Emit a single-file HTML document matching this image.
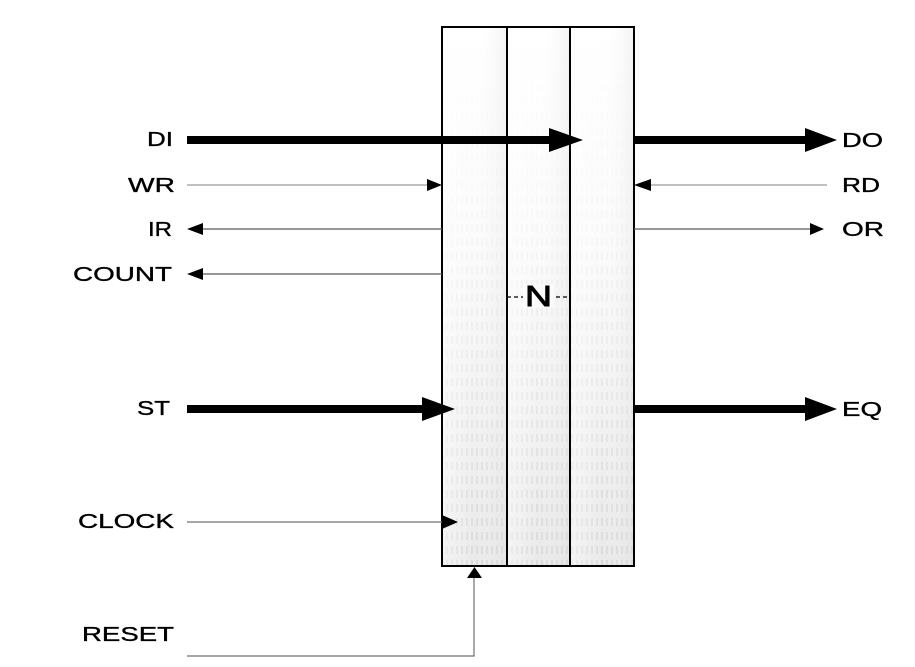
<!DOCTYPE html>
<html>
<head>
<meta charset="utf-8">
<style>
html,body{margin:0;padding:0;background:#fff;}
svg{display:block;}
text{font-family:"Liberation Sans",Arial,sans-serif;fill:#000;stroke:#000;stroke-width:0.35;}
</style>
</head>
<body>
<svg width="915" height="667" viewBox="0 0 915 667" xmlns="http://www.w3.org/2000/svg">
  <defs>
    <linearGradient id="vg" x1="0" y1="0" x2="0" y2="1">
      <stop offset="0" stop-color="#ffffff"/>
      <stop offset="0.4" stop-color="#fbfbfb"/>
      <stop offset="0.7" stop-color="#f2f2f2"/>
      <stop offset="1" stop-color="#e9e9e9"/>
    </linearGradient>
    <linearGradient id="hg" x1="0" y1="0" x2="1" y2="0">
      <stop offset="0" stop-color="#ffffff" stop-opacity="0.5"/>
      <stop offset="0.5" stop-color="#ffffff" stop-opacity="0"/>
      <stop offset="1" stop-color="#d8d8d8" stop-opacity="0.3"/>
    </linearGradient>
    <pattern id="dash" width="5" height="14" patternUnits="userSpaceOnUse">
      <line x1="2" y1="0" x2="2" y2="8" stroke="#bcbcbc" stroke-width="0.8"/>
    </pattern>
    <linearGradient id="mg" x1="0" y1="0" x2="0" y2="1">
      <stop offset="0" stop-color="#fff" stop-opacity="0"/>
      <stop offset="0.3" stop-color="#fff" stop-opacity="0.12"/>
      <stop offset="0.6" stop-color="#fff" stop-opacity="0.4"/>
      <stop offset="1" stop-color="#fff" stop-opacity="0.85"/>
    </linearGradient>
    <mask id="m">
      <rect x="442" y="27" width="192" height="539" fill="url(#mg)"/>
    </mask>
  </defs>

  <!-- box fill -->
  <rect x="442" y="27" width="192" height="539" fill="url(#vg)"/>
  <rect x="442" y="27" width="192" height="539" fill="url(#dash)" mask="url(#m)"/>
  <rect x="442" y="27" width="65" height="539" fill="url(#hg)"/>
  <rect x="507" y="27" width="63" height="539" fill="url(#hg)"/>
  <rect x="570" y="27" width="64" height="539" fill="url(#hg)"/>

  <!-- box outline -->
  <rect x="442" y="27" width="192" height="539" fill="none" stroke="#000" stroke-width="2"/>
  <line x1="507" y1="27" x2="507" y2="566" stroke="#000" stroke-width="2"/>
  <line x1="570" y1="27" x2="570" y2="566" stroke="#000" stroke-width="2"/>

  <!-- N dashed -->
  <line x1="507" y1="297" x2="570" y2="297" stroke="#000" stroke-width="1.3" stroke-dasharray="4,3"/>
  <rect x="523" y="284" width="31" height="24" fill="#fbfbfb"/>
  <text x="525" y="306" font-size="29" textLength="27" lengthAdjust="spacingAndGlyphs" style="stroke-width:0.9">N</text>

  <!-- DI -->
  <line x1="187" y1="140" x2="551" y2="140" stroke="#000" stroke-width="8"/>
  <polygon points="549,128 583,140 549,152" fill="#000"/>
  <!-- WR -->
  <line x1="187" y1="185" x2="430" y2="185" stroke="#9a9a9a" stroke-width="1.2"/>
  <polygon points="427,179 442,185 427,191" fill="#000"/>
  <!-- IR -->
  <line x1="200" y1="229" x2="442" y2="229" stroke="#5a5a5a" stroke-width="1.2"/>
  <polygon points="203,223 187,229 203,235" fill="#000"/>
  <!-- COUNT -->
  <line x1="200" y1="274" x2="442" y2="274" stroke="#5a5a5a" stroke-width="1.2"/>
  <polygon points="203,268 187,274 203,280" fill="#000"/>
  <!-- ST -->
  <line x1="187" y1="409" x2="424" y2="409" stroke="#000" stroke-width="8"/>
  <polygon points="422,397 455,409 422,421" fill="#000"/>
  <!-- CLOCK -->
  <line x1="187" y1="522" x2="444" y2="522" stroke="#707070" stroke-width="1.2"/>
  <polygon points="442,515 458,522 442,529" fill="#000"/>
  <!-- RESET -->
  <polyline points="187,656 474,656 474,576" fill="none" stroke="#707070" stroke-width="1.2"/>
  <polygon points="467,578 474.5,567 482,578" fill="#000"/>

  <!-- DO -->
  <line x1="634" y1="140" x2="808" y2="140" stroke="#000" stroke-width="8"/>
  <polygon points="805,128 837,140 805,152" fill="#000"/>
  <!-- RD -->
  <line x1="648" y1="185" x2="827" y2="185" stroke="#9a9a9a" stroke-width="1.2"/>
  <polygon points="651,179 634,185 651,191" fill="#000"/>
  <!-- OR -->
  <line x1="634" y1="229" x2="812" y2="229" stroke="#5a5a5a" stroke-width="1.2"/>
  <polygon points="810,223 824,229 810,235" fill="#000"/>
  <!-- EQ -->
  <line x1="634" y1="409" x2="808" y2="409" stroke="#000" stroke-width="8"/>
  <polygon points="805,397 837,409 805,421" fill="#000"/>

  <!-- left labels -->
  <text x="147" y="146" font-size="20" textLength="26" lengthAdjust="spacingAndGlyphs">DI</text>
  <text x="128" y="192" font-size="20" textLength="47" lengthAdjust="spacingAndGlyphs">WR</text>
  <text x="148" y="236" font-size="20" textLength="24" lengthAdjust="spacingAndGlyphs">IR</text>
  <text x="73" y="281" font-size="20" textLength="99" lengthAdjust="spacingAndGlyphs">COUNT</text>
  <text x="137" y="415" font-size="20" textLength="33" lengthAdjust="spacingAndGlyphs">ST</text>
  <text x="78" y="528" font-size="20" textLength="96" lengthAdjust="spacingAndGlyphs">CLOCK</text>
  <text x="82" y="641" font-size="20" textLength="92" lengthAdjust="spacingAndGlyphs">RESET</text>

  <!-- right labels -->
  <text x="842" y="147" font-size="20" textLength="41" lengthAdjust="spacingAndGlyphs">DO</text>
  <text x="842" y="192" font-size="20" textLength="38" lengthAdjust="spacingAndGlyphs">RD</text>
  <text x="842" y="236" font-size="20" textLength="42" lengthAdjust="spacingAndGlyphs">OR</text>
  <text x="842" y="416" font-size="20" textLength="40" lengthAdjust="spacingAndGlyphs">EQ</text>
</svg>
</body>
</html>
